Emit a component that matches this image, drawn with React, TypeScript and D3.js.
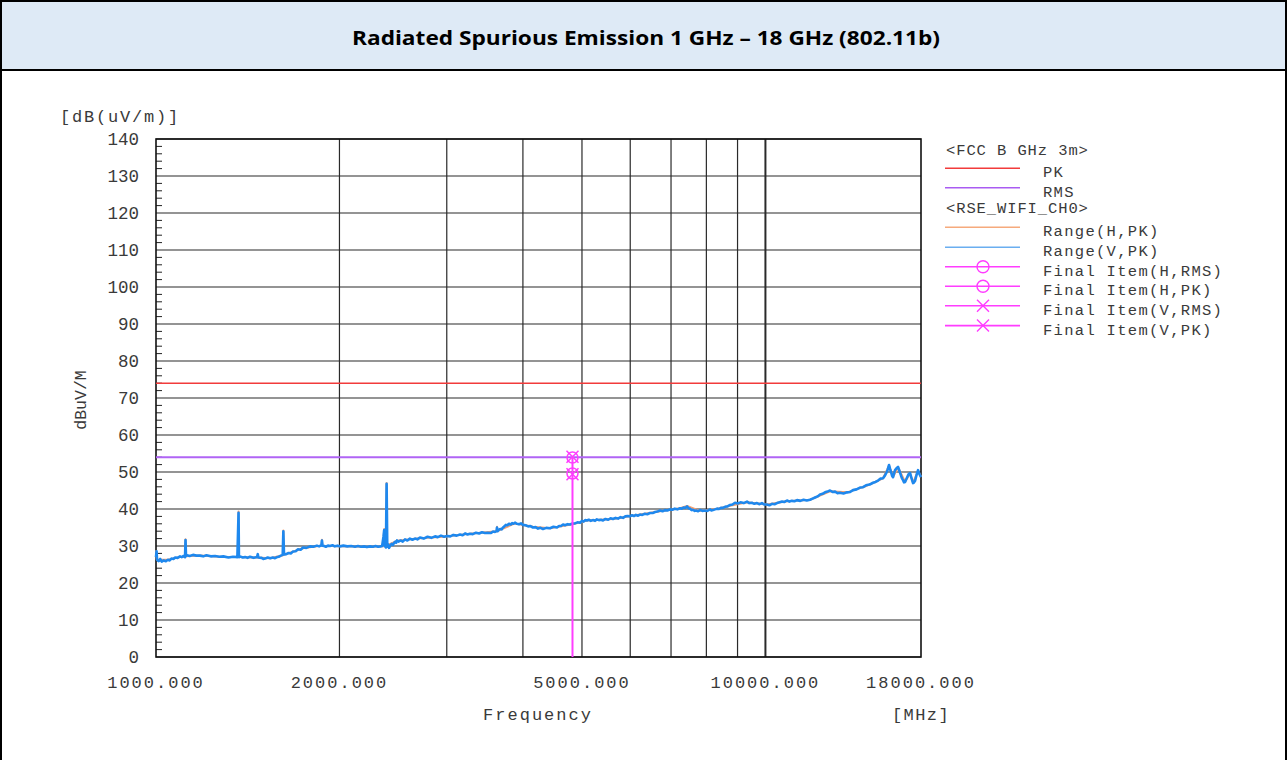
import React from "react";
import * as d3 from "d3";

const TITLE = "Radiated Spurious Emission 1 GHz \u2013 18 GHz (802.11b)";

const xTickLabels = [1000, 2000, 5000, 10000, 18000];
const xGridFreqs = [2000, 3000, 4000, 5000, 6000, 7000, 8000, 9000, 10000];
const yTicks = [0, 10, 20, 30, 40, 50, 60, 70, 80, 90, 100, 110, 120, 130, 140];

const limitPK = 74;
const limitRMS = 54;

// Range(V,PK) trace: [MHz, dBuV/m]
const rangeV: [number, number][] = [
  [1000, 27.0], [1002, 28.6], [1004, 26.3], [1010, 25.9], [1016, 26.5], [1022, 25.8], [1030, 26.1],
  [1038, 25.9], [1046, 26.3], [1053, 26.1], [1060, 26.6], [1068, 26.5], [1075, 26.9], [1085, 26.8],
  [1095, 27.2], [1102, 27.0], [1110, 27.3], [1116, 27.0], [1118, 31.6], [1120, 27.3], [1124, 27.5],
  [1136, 27.3], [1150, 27.6], [1165, 27.4], [1181, 27.4], [1195, 27.2], [1210, 27.5], [1230, 27.2],
  [1250, 27.3], [1270, 27.1], [1290, 27.2], [1315, 26.9], [1338, 27.1], [1360, 27.0], [1366, 39.0],
  [1368, 27.0], [1373, 27.2], [1388, 26.9], [1400, 27.0], [1413, 26.8], [1426, 27.1], [1445, 26.8],
  [1465, 27.0], [1469, 27.8], [1472, 26.9], [1490, 26.8], [1500, 26.5], [1510, 26.6], [1525, 26.9],
  [1540, 26.7], [1555, 26.9], [1568, 26.7], [1580, 27.0], [1590, 27.1], [1603, 27.4], [1614, 27.6],
  [1618, 34.0], [1622, 27.7], [1636, 27.8], [1650, 28.1], [1664, 28.0], [1678, 28.5], [1695, 28.6],
  [1710, 29.1], [1727, 29.0], [1743, 29.6], [1765, 29.5], [1790, 29.9], [1812, 29.8], [1837, 30.1],
  [1852, 29.9], [1868, 30.2], [1872, 31.5], [1876, 30.1], [1888, 30.0], [1900, 29.8], [1915, 30.1],
  [1930, 30.0], [1948, 30.2], [1965, 29.9], [1985, 30.1], [2004, 29.9], [2030, 30.1], [2060, 29.9],
  [2090, 30.0], [2121, 29.8], [2145, 30.0], [2170, 29.8], [2195, 29.9], [2219, 29.7], [2245, 29.9],
  [2270, 29.8], [2292, 30.0], [2314, 29.8], [2335, 29.9], [2350, 30.0], [2362, 32.5], [2368, 34.3],
  [2374, 30.0], [2384, 29.6], [2390, 46.8], [2396, 29.8], [2402, 30.5], [2412, 29.5], [2425, 30.2],
  [2436, 30.6], [2448, 30.3], [2460, 30.9], [2470, 31.2], [2478, 30.9], [2486, 31.5], [2500, 31.2],
  [2520, 31.5], [2540, 31.2], [2562, 31.8], [2585, 31.5], [2610, 32.0], [2635, 31.7], [2660, 32.0],
  [2685, 31.8], [2711, 32.3], [2750, 32.0], [2790, 32.5], [2830, 32.2], [2870, 32.6], [2900, 32.4],
  [2935, 32.8], [2970, 32.5], [3003, 32.7], [3040, 32.6], [3075, 33.0], [3115, 32.8], [3154, 33.1],
  [3185, 32.9], [3215, 33.4], [3245, 33.1], [3275, 33.3], [3310, 33.2], [3350, 33.6], [3390, 33.4],
  [3427, 33.7], [3465, 33.5], [3500, 33.6], [3540, 33.5], [3573, 33.9], [3600, 33.8], [3620, 34.0],
  [3627, 35.0], [3634, 34.0], [3650, 34.3], [3670, 34.6], [3690, 34.5], [3710, 35.0], [3730, 35.3],
  [3750, 35.7], [3772, 35.6], [3795, 36.0], [3820, 35.8], [3840, 36.2], [3860, 36.0], [3882, 36.3],
  [3910, 36.0], [3940, 35.9], [3970, 36.1], [4001, 35.7], [4040, 35.6], [4080, 35.3], [4115, 35.4],
  [4155, 35.0], [4195, 35.1], [4235, 34.7], [4275, 34.9], [4315, 34.6], [4370, 34.9], [4431, 34.8],
  [4490, 35.2], [4550, 35.0], [4585, 35.4], [4620, 35.4], [4655, 35.8], [4690, 35.6], [4735, 35.9],
  [4780, 35.8], [4824, 36.1], [4870, 36.1], [4915, 36.4], [4963, 36.3], [5000, 36.8], [5030, 36.6],
  [5060, 37.0], [5096, 36.9], [5130, 37.1], [5170, 36.8], [5210, 37.0], [5253, 36.8], [5290, 37.2],
  [5330, 37.0], [5370, 37.1], [5414, 36.9], [5465, 37.3], [5520, 37.1], [5570, 37.5], [5622, 37.3],
  [5675, 37.6], [5730, 37.4], [5785, 37.8], [5839, 37.6], [5890, 38.0], [5940, 38.1], [5990, 38.0],
  [6041, 38.3], [6085, 38.1], [6130, 38.4], [6180, 38.2], [6226, 38.5], [6280, 38.4], [6340, 38.7],
  [6400, 38.6], [6466, 38.9], [6530, 38.9], [6590, 39.2], [6650, 39.3], [6715, 39.6], [6780, 39.4],
  [6840, 39.7], [6905, 39.6], [6974, 39.9], [7035, 39.8], [7100, 40.1], [7170, 39.9], [7242, 40.2],
  [7290, 40.1], [7340, 40.4], [7390, 40.3], [7436, 40.7], [7480, 40.2], [7520, 40.1], [7565, 39.7],
  [7607, 39.8], [7655, 39.5], [7700, 39.6], [7755, 39.4], [7811, 39.7], [7880, 39.5], [7950, 39.6],
  [8030, 39.5], [8111, 39.9], [8155, 39.6], [8200, 39.7], [8265, 39.9], [8329, 40.1], [8390, 40.0],
  [8450, 40.3], [8515, 40.3], [8584, 40.6], [8665, 40.7], [8750, 41.1], [8830, 41.2], [8915, 41.7],
  [9005, 41.5], [9100, 41.8], [9215, 41.6], [9328, 42.0], [9410, 41.6], [9500, 41.7], [9590, 41.4],
  [9687, 41.6], [9780, 41.3], [9870, 41.6], [9965, 41.2], [10060, 41.2], [10150, 41.0], [10250, 41.4],
  [10350, 41.3], [10448, 41.6], [10550, 41.8], [10650, 42.0], [10750, 41.9], [10850, 42.3], [10950, 42.0],
  [11050, 42.2], [11160, 42.1], [11268, 42.4], [11410, 42.2], [11550, 42.5], [11690, 42.3], [11835, 42.5],
  [11950, 42.8], [12061, 43.1], [12180, 43.4], [12291, 43.9], [12410, 44.1], [12525, 44.5], [12645, 44.7],
  [12764, 45.0], [12885, 44.6], [13008, 44.7], [13130, 44.3], [13256, 44.4], [13430, 44.2], [13611, 44.5],
  [13770, 44.6], [13923, 45.1], [14110, 45.3], [14297, 45.8], [14460, 45.9], [14625, 46.4], [14820, 46.6],
  [15017, 47.1], [15160, 47.3], [15303, 47.7], [15450, 48.2], [15595, 48.3], [15690, 48.9], [15773, 49.6],
  [15860, 50.5], [15953, 51.9], [16010, 50.9], [16074, 50.0], [16135, 49.0], [16196, 48.6], [16260, 49.6],
  [16319, 50.5], [16410, 51.0], [16505, 51.4], [16600, 50.2], [16693, 49.0], [16760, 48.2], [16820, 47.8],
  [16885, 47.2], [16948, 47.3], [17010, 47.9], [17076, 48.5], [17170, 49.4], [17271, 49.7], [17370, 48.3],
  [17468, 47.0], [17535, 47.2], [17600, 47.6], [17700, 49.2], [17801, 50.5], [17900, 49.4], [18000, 48.6],
];

// Range(H,PK) trace (mostly hidden under V)
const rangeH: [number, number][] = [
  [1000, 28.8], [1003, 26.3], [1046, 26.3], [1095, 27.0], [1116, 27.1], [1118, 31.8], [1120, 27.2],
  [1181, 27.4], [1290, 27.0], [1364, 27.0], [1366, 39.3], [1368, 27.0], [1465, 26.9], [1540, 26.7],
  [1616, 27.5], [1618, 34.2], [1620, 27.6], [1743, 29.4], [1870, 30.1], [1872, 31.7], [1874, 30.1],
  [2004, 29.9], [2219, 29.8], [2360, 29.9], [2368, 34.6], [2376, 30.0], [2388, 29.7], [2390, 47.0],
  [2392, 29.7], [2402, 30.3], [2486, 31.4], [2711, 32.1], [3003, 32.6], [3275, 33.3], [3625, 34.0],
  [3627, 35.2], [3630, 34.0], [3882, 36.1], [4155, 35.2], [4431, 34.8], [4824, 35.9], [5096, 36.9],
  [5622, 37.3], [6226, 38.5], [6715, 39.4], [7242, 40.2], [7436, 40.8], [7811, 39.5], [8329, 40.1],
  [9328, 41.8], [10060, 41.2], [10850, 42.1], [11835, 42.5], [12764, 44.8], [13611, 44.5], [14625, 46.2],
  [15595, 48.3], [15953, 51.7], [16196, 48.7], [16505, 51.2], [16948, 47.4], [17271, 49.6], [17468, 47.1],
  [17801, 50.3], [18000, 48.7],
];

const finalFreq = 4824;
const finalHRMS = 49.6;
const finalHPK = 53.9;
const finalVRMS = 49.4;
const finalVPK = 54.1;

const legendRows = [
  { kind: "header", label: "<FCC B GHz 3m>" },
  { kind: "line", label: "PK", color: "#f23b3b", marker: "" },
  { kind: "line", label: "RMS", color: "#a95cf2", marker: "" },
  { kind: "header", label: "<RSE_WIFI_CH0>" },
  { kind: "line", label: "Range(H,PK)", color: "#f6aa7c", marker: "" },
  { kind: "line", label: "Range(V,PK)", color: "#6aaef0", marker: "" },
  { kind: "line", label: "Final Item(H,RMS)", color: "#ff3dff", marker: "circle" },
  { kind: "line", label: "Final Item(H,PK)", color: "#ff3dff", marker: "circle" },
  { kind: "line", label: "Final Item(V,RMS)", color: "#ff3dff", marker: "x" },
  { kind: "line", label: "Final Item(V,PK)", color: "#ff3dff", marker: "x" },
];

const MONO = "'Courier New', 'Nimbus Mono PS', 'FreeMono', 'Liberation Mono', monospace";
const TXT = "#3a3a3a";

export default function App() {
  const W = 1287, H = 760;
  const left = 156, right = 921, top = 139, bottom = 657;
  const x = d3.scaleLog().domain([1000, 18000]).range([left, right]);
  const y = d3.scaleLinear().domain([0, 140]).range([bottom, top]);
  const line = d3.line<[number, number]>().x(d => x(d[0])).y(d => y(d[1]));

  const minor: number[] = [];
  for (let v = 2; v < 140; v += 2) if (v % 10 !== 0) minor.push(v);

  const magenta = "#ff3dff";
  const circ = (cx: number, cy: number, key: string) => (
    <circle key={key} cx={cx} cy={cy} r={5.5} fill="none" stroke={magenta} strokeWidth={1.5} />
  );
  const cross = (cx: number, cy: number, key: string) => (
    <path key={key} d={`M${cx - 6},${cy - 6}L${cx + 6},${cy + 6}M${cx - 6},${cy + 6}L${cx + 6},${cy - 6}`} stroke={magenta} strokeWidth={1.5} />
  );
  const fx = x(finalFreq);

  const legX1 = 945, legX2 = 1020, legText = 1043;
  const headerYs = [150, 207.7];
  const lineYs = [168.3, 187.7, 227.3, 247.3, 266.7, 286.2, 305.8, 325.6];

  let lineIdx = 0;
  let headIdx = 0;

  return (
    <svg width={W} height={H} style={{ position: "absolute", left: 0, top: 0, background: "#fff" }}>
      {/* header */}
      <rect x={1} y={1} width={W - 2} height={69} fill="#deeaf6" stroke="#000" strokeWidth={2} />
      <line x1={1} y1={70} x2={1} y2={H} stroke="#000" strokeWidth={2} />
      <line x1={W - 1} y1={70} x2={W - 1} y2={H} stroke="#000" strokeWidth={2} />
      <text x={646} y={45} textAnchor="middle" fontFamily="'Open Sans', 'Liberation Sans', sans-serif" fontWeight={700}
        fontSize={20} textLength={588} lengthAdjust="spacingAndGlyphs" fill="#000">{TITLE}</text>

      {/* grid */}
      {yTicks.map(v => (
        <line key={"hg" + v} x1={left} x2={right} y1={y(v)} y2={y(v)} stroke="#2a2a2a" strokeWidth={1.2} />
      ))}
      {xGridFreqs.map(f => (
        <line key={"vg" + f} x1={x(f)} x2={x(f)} y1={top} y2={bottom} stroke="#2a2a2a" strokeWidth={f === 10000 ? 2 : 1.2} />
      ))}
      {minor.map(v => (
        <line key={"mt" + v} x1={left} x2={left + 6} y1={y(v)} y2={y(v)} stroke="#222" strokeWidth={1} />
      ))}
      <rect x={left} y={top} width={right - left} height={bottom - top} fill="none" stroke="#111" strokeWidth={1.6} />

      {/* limits */}
      <line x1={left} x2={right} y1={y(limitPK)} y2={y(limitPK)} stroke="#f23b3b" strokeWidth={1.6} />
      <line x1={left} x2={right} y1={y(limitRMS)} y2={y(limitRMS)} stroke="#b064f5" strokeWidth={2} />

      {/* traces */}
      <path d={line(rangeH) || ""} fill="none" stroke="#f6a070" strokeWidth={2} strokeLinejoin="round" />
      <path d={line(rangeV) || ""} fill="none" stroke="#1e88ee" strokeWidth={2.6} strokeLinejoin="round" />

      {/* final items */}
      <line x1={fx} x2={fx} y1={bottom} y2={y(Math.max(finalHPK, finalVPK))} stroke={magenta} strokeWidth={2} />
      {circ(fx, y(finalHRMS), "c1")}
      {circ(fx, y(finalHPK), "c2")}
      {cross(fx, y(finalVRMS), "x1")}
      {cross(fx, y(finalVPK), "x2")}

      {/* y labels */}
      {yTicks.map(v => (
        <text key={"yl" + v} x={139} y={y(v)} dy="0.35em" textAnchor="end" fontFamily={MONO} fontSize={17.5} fill={TXT}>{v}</text>
      ))}
      <text x={60} y={122} fontFamily={MONO} fontSize={17} letterSpacing={1.8} fill={TXT}>[dB(uV/m)]</text>
      <text transform={`translate(86,${400}) rotate(-90)`} textAnchor="middle" fontFamily={MONO} fontSize={16.5} fill={TXT}>dBuV/M</text>

      {/* x labels */}
      {xTickLabels.map(f => (
        <text key={"xl" + f} x={x(f)} y={688} textAnchor="middle" fontFamily={MONO} fontSize={17} letterSpacing={2} fill={TXT}>{f.toFixed(3)}</text>
      ))}
      <text x={538} y={720} textAnchor="middle" fontFamily={MONO} fontSize={17} letterSpacing={2} fill={TXT}>Frequency</text>
      <text x={921} y={720} textAnchor="middle" fontFamily={MONO} fontSize={17} letterSpacing={1.4} fill={TXT}>[MHz]</text>

      {/* legend */}
      {legendRows.map((r, i) => {
        if (r.kind === "header") {
          const yy = headerYs[headIdx++];
          return (
            <text key={"lg" + i} x={946} y={yy} dy="0.35em" fontFamily={MONO} fontSize={15.5} letterSpacing={0.9} fill={TXT}>{r.label}</text>
          );
        }
        const ly = lineYs[lineIdx++];
        const cx = 983;
        return (
          <g key={"lg" + i}>
            <line x1={legX1} x2={legX2} y1={ly} y2={ly} stroke={r.color} strokeWidth={1.6} />
            {r.marker === "circle" && <circle cx={cx} cy={ly} r={6} fill="none" stroke={r.color} strokeWidth={1.4} />}
            {r.marker === "x" && <path d={`M${cx - 6},${ly - 6}L${cx + 6},${ly + 6}M${cx - 6},${ly + 6}L${cx + 6},${ly - 6}`} stroke={r.color} strokeWidth={1.4} />}
            <text x={legText} y={ly + 3.5} dy="0.35em" fontFamily={MONO} fontSize={15.5} letterSpacing={1.3} fill={TXT}>{r.label}</text>
          </g>
        );
      })}
    </svg>
  );
}
